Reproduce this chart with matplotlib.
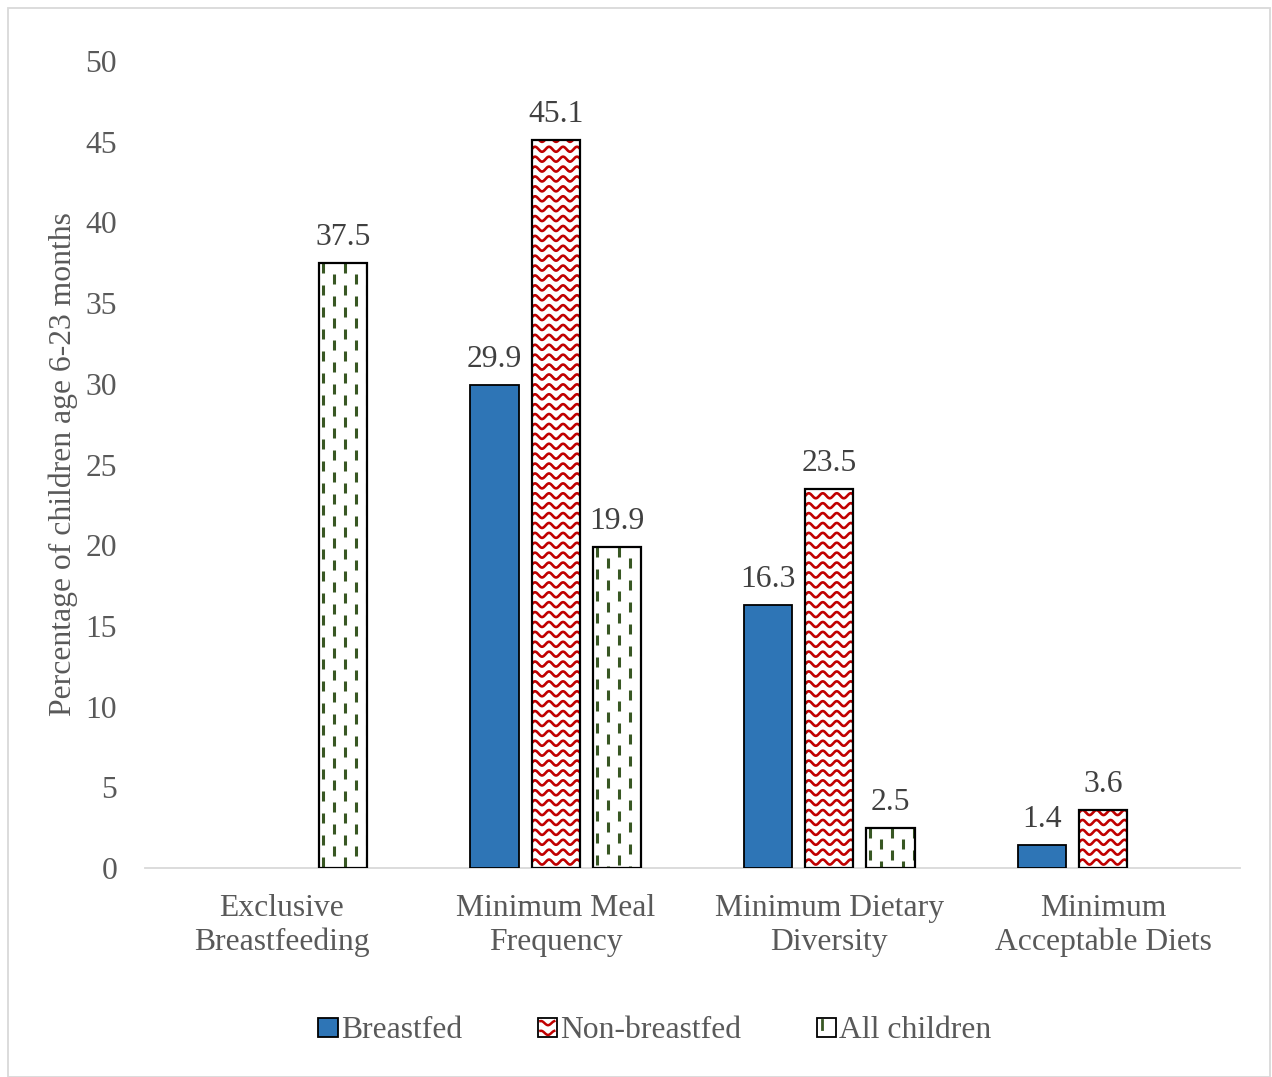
import numpy as np
import matplotlib
matplotlib.use("Agg")
import matplotlib.pyplot as plt
from matplotlib.patches import Rectangle, Patch
from matplotlib.legend_handler import HandlerPatch
from matplotlib.lines import Line2D

categories = ["Exclusive\nBreastfeeding", "Minimum Meal\nFrequency",
              "Minimum Dietary\nDiversity", "Minimum\nAcceptable Diets"]
series_names = ["Breastfed", "Non-breastfed", "All children"]
breastfed = [np.nan, 29.9, 16.3, 1.4]
non_breastfed = [np.nan, 45.1, 23.5, 3.6]
all_children = [37.5, 19.9, 2.5, np.nan]
yticks = [0, 5, 10, 15, 20, 25, 30, 35, 40, 45, 50]

BLUE = "#2E75B6"
RED = "#C00000"
GREEN = "#385723"
TXT = "#595959"
VAL = "#404040"
FS = 22.8

plt.rcParams["font.family"] = ["Liberation Serif", "DejaVu Serif"]

fig = plt.figure(figsize=(12.72, 10.77), dpi=100)
fig.patches.append(Rectangle((8 / 1272, 0), 1262 / 1272, 1069 / 1077, transform=fig.transFigure,
                             fill=False, edgecolor="#D9D9D9", linewidth=1.3))
ax = fig.add_axes([145 / 1272, 209 / 1077, 1095 / 1272, 807 / 1077])
ax.set_xlim(-0.5, 3.5)
ax.set_ylim(0, 50)

fig.canvas.draw()
bb = ax.get_window_extent()
dxp = 4.0 / bb.width   # data x per pixel
dyp = 50.0 / bb.height  # data y per pixel

x = np.arange(len(categories))
w = 0.176
off = 0.223

def annotate(rects, vals):
    for r, v in zip(rects, vals):
        if np.isnan(v):
            continue
        ax.annotate(f"{v:.1f}", (r.get_x() + r.get_width() / 2, v),
                    xytext=(0, 8), textcoords="offset points", ha="center", va="bottom",
                    fontsize=FS, color=VAL)

# Breastfed
b1 = ax.bar(x - off, breastfed, w, color=BLUE, edgecolor="black", linewidth=1.3, zorder=3)

# Non-breastfed: wave pattern
b2 = ax.bar(x, non_breastfed, w, color="white", edgecolor="black", linewidth=1.3, zorder=3)
for r, v in zip(b2, non_breastfed):
    if np.isnan(v):
        continue
    x0, wd = r.get_x(), r.get_width()
    period = 14 * dxp
    amp = 2.5 * dyp
    rowsp = 9.9 * dyp
    xs = np.linspace(x0 - period, x0 + wd + period, 200)
    y = rowsp * 0.6
    while y < v + rowsp:
        ys = y + amp * np.sin(2 * np.pi * (xs - x0) / period)
        ln = ax.plot(xs, ys, color=RED, linewidth=1.9, zorder=3.5)[0]
        ln.set_clip_path(r)
        y += rowsp
    ax.add_patch(Rectangle((x0, 0), wd, v, fill=False, edgecolor="black", linewidth=1.6, zorder=4))

# All children: staggered vertical dashes
b3 = ax.bar(x + off, all_children, w, color="white", edgecolor="black", linewidth=1.3, zorder=3)
for r, v in zip(b3, all_children):
    if np.isnan(v):
        continue
    x0, wd = r.get_x(), r.get_width()
    colsp = 11 * dxp
    for k, cx in enumerate(np.arange(x0 + 4 * dxp, x0 + wd, colsp)):
        shift = 0 if k % 2 == 0 else 11 * dyp
        ln = ax.plot([cx, cx], [v - shift, -1], color=GREEN, linewidth=2.2,
                     dashes=(10 * 0.72 / 2.2, 12 * 0.72 / 2.2),
                     zorder=3.5)[0]
        ln.set_clip_path(r)
    ax.add_patch(Rectangle((x0, 0), wd, v, fill=False, edgecolor="black", linewidth=1.6, zorder=4))

annotate(b1, breastfed)
annotate(b2, non_breastfed)
annotate(b3, all_children)

ax.set_xticks(x)
ax.set_xticklabels(categories, fontsize=FS, color=TXT, linespacing=1.2)
ax.set_yticks(yticks)
ax.set_yticklabels([str(t) for t in yticks], fontsize=FS, color=TXT)
ax.tick_params(axis="both", length=0)
ax.tick_params(axis="x", pad=19)
ax.tick_params(axis="y", pad=20)
for s in ["top", "right", "left"]:
    ax.spines[s].set_visible(False)
ax.spines["bottom"].set_color("#D9D9D9")
ax.spines["bottom"].set_linewidth(1.3)
ax.spines["bottom"].set_zorder(2)
ax.set_ylabel("Percentage of children age 6-23 months", fontsize=FS, color=TXT)
ax.yaxis.set_label_coords(-67 / 1095, 0.5)


class SwatchHandler(HandlerPatch):
    def __init__(self, kind):
        super().__init__()
        self.kind = kind

    def create_artists(self, legend, orig_handle, xdescent, ydescent, width, height, fontsize, trans):
        s = 14
        x0 = width - s
        y0 = (height - s) / 2 - ydescent
        arts = []
        fc = BLUE if self.kind == 0 else "white"
        arts.append(Rectangle((x0, y0), s, s, facecolor=fc, edgecolor="black", linewidth=1.3, transform=trans))
        if self.kind == 1:
            xs = np.linspace(x0 + 2, x0 + s - 2, 20)
            for yy in (y0 + 3, y0 + s - 4):
                arts.append(Line2D(xs, yy + 1.5 * np.sin(2 * np.pi * (xs - x0) / 10), color=RED, linewidth=1.8, transform=trans))
        elif self.kind == 2:
            arts.append(Line2D([x0 + 4, x0 + 4], [y0 + s - 2, y0 + s - 8], color=GREEN, linewidth=2, transform=trans))
        return arts


handles = [Patch(label=n) for n in series_names]
leg = fig.legend(handles=handles, labels=series_names, loc="center", bbox_to_anchor=(656 / 1272, 1 - 1031 / 1077),
                 ncol=3, frameon=False, fontsize=FS, handlelength=0.55, handleheight=0.55, handletextpad=0.1,
                 columnspacing=2.45,
                 handler_map={handles[0]: SwatchHandler(0), handles[1]: SwatchHandler(1), handles[2]: SwatchHandler(2)})
for t in leg.get_texts():
    t.set_color(TXT)

fig.savefig("out.png", dpi=100)
